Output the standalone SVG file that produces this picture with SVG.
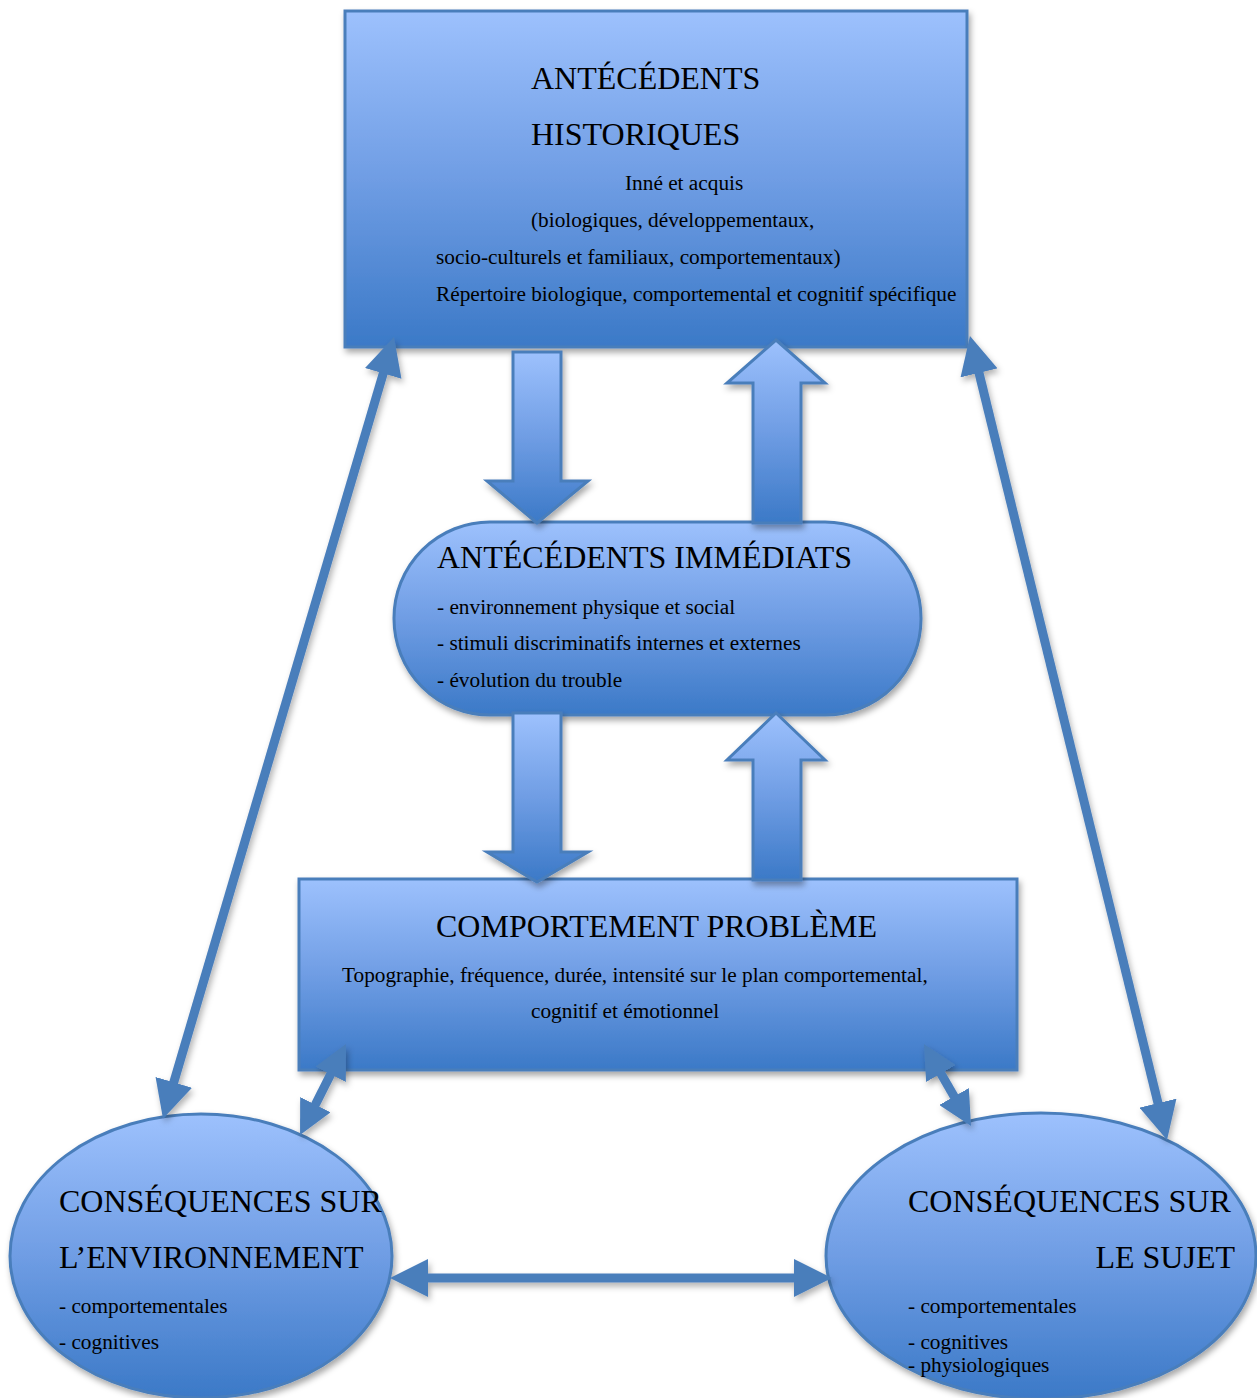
<svg xmlns="http://www.w3.org/2000/svg" width="1257" height="1398" viewBox="0 0 1257 1398">
  <defs>
    <linearGradient id="fillBlue" x1="0" y1="0" x2="0" y2="1">
      <stop offset="0" stop-color="#9dc1fd"/>
      <stop offset="0.5" stop-color="#6f9de4"/>
      <stop offset="1" stop-color="#3b79c7"/>
    </linearGradient>
    <filter id="shadow" x="-10%" y="-10%" width="125%" height="130%">
      <feDropShadow dx="2" dy="4" stdDeviation="3" flood-color="#000" flood-opacity="0.35"/>
    </filter>
    <!-- canvas-wide region so markers and flat lines keep their shadow -->
    <filter id="lineShadow" filterUnits="userSpaceOnUse" x="0" y="0" width="1257" height="1398">
      <feDropShadow dx="2" dy="4" stdDeviation="3" flood-color="#000" flood-opacity="0.3"/>
    </filter>
    <!-- tips reach 30px (large) / 25px (small) beyond the line ends -->
    <marker id="headL" markerUnits="userSpaceOnUse" markerWidth="38" markerHeight="38" refX="8" refY="19" orient="auto-start-reverse">
      <path d="M0,0 L38,19 L0,38 z" fill="#4a7ebb"/>
    </marker>
    <marker id="headS" markerUnits="userSpaceOnUse" markerWidth="34" markerHeight="34" refX="9" refY="17" orient="auto-start-reverse">
      <path d="M0,0 L34,17 L0,34 z" fill="#4a7ebb"/>
    </marker>
  </defs>
  <style>
    .node { fill: url(#fillBlue); stroke: #4a7ebb; stroke-width: 3; filter: url(#shadow); }
    .block { fill: url(#fillBlue); stroke: #4a7ebb; stroke-width: 3; filter: url(#shadow); }
    .thin { stroke: #4a7ebb; stroke-width: 9; fill: none; filter: url(#lineShadow); }
    .title { font-family: "Liberation Serif", "Times New Roman", serif; font-size: 32px; fill: #000; }
    .body { font-family: "Liberation Serif", "Times New Roman", serif; font-size: 21.3px; fill: #000; }
  </style>

  <rect width="1257" height="1398" fill="#fff"/>

  <!-- Historical antecedents -->
  <g id="antecedents-historiques">
    <rect class="node" x="345" y="11" width="622" height="336"/>
    <text class="title" x="531" y="89">ANTÉCÉDENTS</text>
    <text class="title" x="531" y="145">HISTORIQUES</text>
    <text class="body" x="625" y="190">Inné et acquis</text>
    <text class="body" x="531" y="227">(biologiques, développementaux,</text>
    <text class="body" x="436" y="264">socio-culturels et familiaux, comportementaux)</text>
    <text class="body" x="436" y="301">Répertoire biologique, comportemental et cognitif spécifique</text>
  </g>

  <!-- Immediate antecedents -->
  <g id="antecedents-immediats">
    <rect class="node" x="394" y="522" width="527" height="193" rx="96" ry="96"/>
    <text class="title" x="437" y="568">ANTÉCÉDENTS IMMÉDIATS</text>
    <text class="body" x="437" y="614">- environnement physique et social</text>
    <text class="body" x="437" y="650">- stimuli discriminatifs internes et externes</text>
    <text class="body" x="437" y="687">- évolution du trouble</text>
  </g>

  <!-- Problem behaviour -->
  <g id="comportement-probleme">
    <rect class="node" x="299" y="879" width="718" height="191"/>
    <text class="title" x="436" y="937">COMPORTEMENT PROBLÈME</text>
    <text class="body" x="342" y="982">Topographie, fréquence, durée, intensité sur le plan comportemental,</text>
    <text class="body" x="531" y="1018">cognitif et émotionnel</text>
  </g>

  <!-- Consequences on the environment -->
  <g id="consequences-environnement">
    <ellipse class="node" cx="201" cy="1256" rx="191" ry="142"/>
    <text class="title" x="59" y="1212">CONSÉQUENCES SUR</text>
    <text class="title" x="59" y="1268">L’ENVIRONNEMENT</text>
    <text class="body" x="59" y="1313">- comportementales</text>
    <text class="body" x="59" y="1349">- cognitives</text>
  </g>

  <!-- Consequences on the subject -->
  <g id="consequences-sujet">
    <ellipse class="node" cx="1041" cy="1256" rx="215" ry="143"/>
    <text class="title" x="908" y="1212">CONSÉQUENCES SUR</text>
    <text class="title" x="1235" y="1268" text-anchor="end">LE SUJET</text>
    <text class="body" x="908" y="1313">- comportementales</text>
    <text class="body" x="908" y="1349">- cognitives</text>
    <text class="body" x="908" y="1372">- physiologiques</text>
  </g>

  <!-- Connectors -->
  <g id="connectors">
    <!-- block arrows between the central column -->
    <polygon class="block" points="513,352 561,352 561,481 588,481 537,523 487,481 513,481"/>
    <polygon class="block" points="776,340 825,383 801,383 801,523 753,523 753,383 727,383"/>
    <polygon class="block" points="513,713 561,713 561,852 588,852 537,882 487,852 513,852"/>
    <polygon class="block" points="776,713 825,760 801,760 801,880 753,880 753,760 727,760"/>

    <!-- long side links to the historical antecedents -->
    <line class="thin" x1="171.5" y1="1090" x2="385.5" y2="365.8" marker-start="url(#headL)" marker-end="url(#headL)"/>
    <line class="thin" x1="977.1" y1="365.1" x2="1159.9" y2="1110.9" marker-start="url(#headL)" marker-end="url(#headL)"/>

    <!-- short links from the problem behaviour -->
    <line class="thin" x1="334.7" y1="1066.3" x2="311.3" y2="1112.7" marker-start="url(#headS)" marker-end="url(#headS)"/>
    <line class="thin" x1="936.4" y1="1065.7" x2="958.6" y2="1104.3" marker-start="url(#headS)" marker-end="url(#headS)"/>

    <!-- link between the two consequence nodes -->
    <line class="thin" x1="420" y1="1278" x2="802" y2="1278" stroke-width="10" marker-start="url(#headL)" marker-end="url(#headL)"/>
  </g>
</svg>
